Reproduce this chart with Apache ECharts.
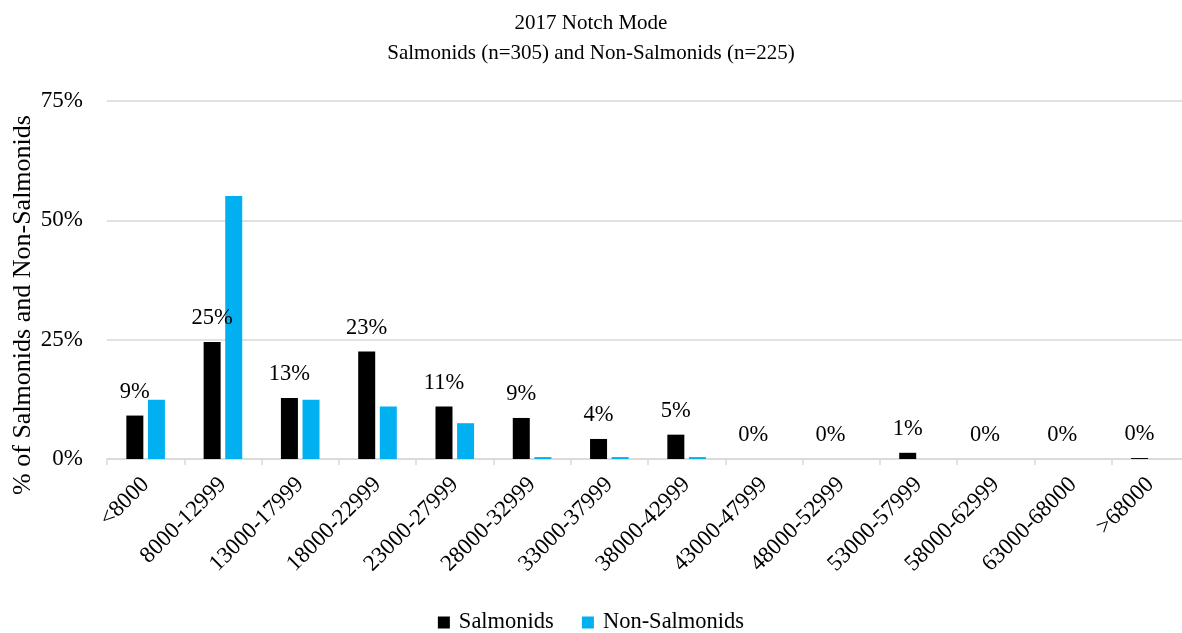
<!DOCTYPE html>
<html>
<head>
<meta charset="utf-8">
<title>2017 Notch Mode</title>
<script src="https://cdn.jsdelivr.net/npm/echarts@6/dist/echarts.min.js"></script>
<style>
  html, body { margin: 0; padding: 0; background: #ffffff; }
  #chart { width: 1182px; height: 633px; }
</style>
</head>
<body>
<div id="chart"></div>
<script>
// Notch mode bins
const categories = [
  '<8000', '8000-12999', '13000-17999', '18000-22999', '23000-27999',
  '28000-32999', '33000-37999', '38000-42999', '43000-47999', '48000-52999',
  '53000-57999', '58000-62999', '63000-68000', '>68000'
];

// Percent of fish in each bin
const salmonids = [9.1, 24.5, 12.8, 22.5, 11.0, 8.6, 4.2, 5.1, 0, 0, 1.3, 0, 0, 0.2];
const nonSalmonids = [12.4, 55.1, 12.4, 11.0, 7.5, 0.4, 0.4, 0.4, 0, 0, 0, 0, 0, 0];

// Y axis ticks (percent)
const yTicks = [0, 25, 50, 75];

const FONT = '"Liberation Serif", "Times New Roman", serif';

const chart = echarts.init(document.getElementById('chart'), null, { renderer: 'canvas' });

chart.setOption({
  animation: false,
  backgroundColor: '#ffffff',
  textStyle: { fontFamily: FONT, color: '#000' },
  title: {
    text: '2017 Notch Mode\nSalmonids (n=305) and Non-Salmonids (n=225)',
    left: 'center',
    top: 3,
    textStyle: { fontFamily: FONT, fontSize: 21, fontWeight: 'normal', color: '#000', lineHeight: 30 }
  },
  legend: {
    top: 606,
    left: 'center',
    itemWidth: 12,
    itemHeight: 12,
    itemGap: 28,
    icon: 'rect',
    textStyle: { fontFamily: FONT, fontSize: 22.5, color: '#000', padding: [0, 0, 0, 4] },
    data: ['Salmonids', 'Non-Salmonids']
  },
  grid: { left: 107, right: -7, top: 101, bottom: 174, outerBoundsMode: 'none', containLabel: false },
  xAxis: {
    type: 'category',
    data: categories,
    boundaryGap: true,
    axisLine: { lineStyle: { color: '#d9d9d9', width: 1.5 } },
    axisTick: { show: true, length: 6, lineStyle: { color: '#d9d9d9', width: 1.5 } },
    axisLabel: {
      interval: 0,
      rotate: 45,
      margin: 22,
      fontFamily: FONT,
      fontSize: 23,
      color: '#000'
    }
  },
  yAxis: {
    type: 'value',
    min: yTicks[0],
    max: yTicks[yTicks.length - 1],
    interval: 25,
    name: '% of Salmonids and Non-Salmonids',
    nameLocation: 'middle',
    nameGap: 71,
    nameMoveOverlap: false,
    // right padding nudges the rotated title toward the bottom of the axis
    nameTextStyle: { fontFamily: FONT, fontSize: 26, color: '#000', padding: [0, 50, 0, 0] },
    axisLine: { show: false },
    axisTick: { show: false },
    axisLabel: {
      margin: 24,
      fontFamily: FONT,
      fontSize: 23,
      color: '#000',
      formatter: v => v + '%'
    },
    splitLine: { lineStyle: { color: '#d9d9d9', width: 1.5 } }
  },
  series: [
    {
      name: 'Salmonids',
      type: 'bar',
      data: salmonids,
      barWidth: 17,
      barGap: '27%',
      itemStyle: { color: '#000000' },
      label: {
        show: true,
        position: 'top',
        distance: 12,
        fontFamily: FONT,
        fontSize: 22.5,
        color: '#000',
        formatter: p => Math.round(p.value) + '%'
      }
    },
    {
      name: 'Non-Salmonids',
      type: 'bar',
      data: nonSalmonids,
      barWidth: 17,
      itemStyle: { color: '#00B0F0' }
    }
  ]
});
</script>
</body>
</html>
